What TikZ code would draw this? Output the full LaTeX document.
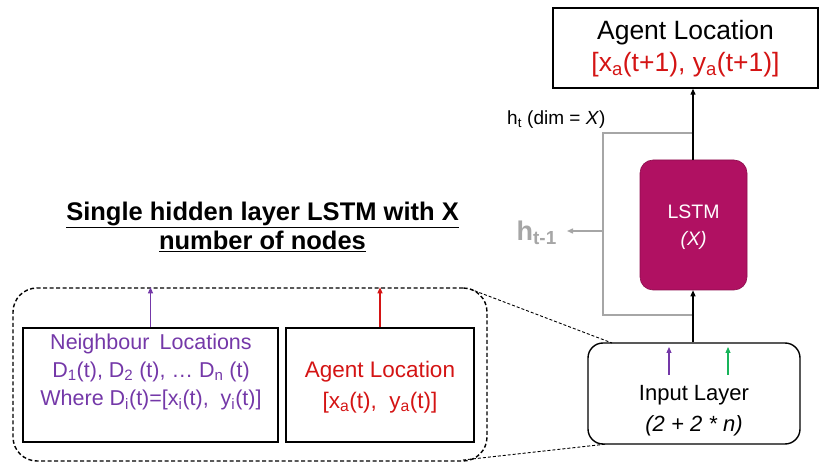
\documentclass[tikz,border=0pt]{standalone}
\usepackage{fontspec}
\setmainfont{Liberation Sans}
\usetikzlibrary{arrows.meta}
\definecolor{lstmcol}{HTML}{B01162}
\definecolor{nbcol}{HTML}{7438A8}
\definecolor{agcol}{HTML}{D41414}
\definecolor{grcol}{HTML}{18B45A}
\definecolor{loopcol}{HTML}{A6A6A6}
\newcommand{\lo}[1]{\textsubscript{#1}}
\newcommand{\fs}[1]{\fontsize{#1}{#1}\selectfont}
\tikzset{
  box/.style={draw=black, line width=1.4pt, inner sep=0pt},
  tip/.style={-{Triangle[length=6pt,width=5pt]}},
  link/.style={line width=1.2pt, tip},
  zoomline/.style={draw=black, line width=0.9pt, dash pattern=on 3pt off 2pt},
}
\begin{document}
\begin{tikzpicture}[x=1pt, y=-1pt]
\useasboundingbox (0,0) rectangle (823,462);

% output box
\node[box, minimum width=265pt, minimum height=80pt] (out) at (685.5,48) {};
\node (outa) at (685.5,33) {\fs{26.5}Agent Location};
\node[text=agcol] (outb) at (685.5,65) {\fs{26.5}[x\lo{a}(t+1), y\lo{a}(t+1)]};

% LSTM cell
\node[fill=lstmcol, draw=lstmcol!80!black, line width=0.6pt, rounded corners=13pt,
      minimum width=107pt, minimum height=130pt] (lstm) at (693.5,225) {};
\node[text=white] (lstmt) at (693.5,212) {\fs{19.5}LSTM};
\node[text=white] (lstmx) at (693.5,240) {\fs{19.5}\itshape(X)};

% input layer
\node[box, rounded corners=15pt, minimum width=212pt, minimum height=101pt] (inp) at (694,393.5) {};
\node (inpa) at (694,395) {\fs{22}Input Layer};
\node (inpb) at (694,426) {\fs{22}\itshape(2 + 2 * n)};

% recurrent loop
\coordinate (ltop) at (693,133);
\coordinate (lleft) at (603,133);
\coordinate (lbot) at (603,315);
\coordinate (lend) at (693,315);
\coordinate (lmid) at (603,231);
\coordinate (lout) at (567,231);
\draw[loopcol, line width=1.4pt] (ltop) -- (lleft) -- (lbot) -- (lend);
\draw[loopcol, line width=1.4pt, tip] (lmid) -- (lout);
\node[text=loopcol, anchor=east, inner sep=1pt] (hprev) at (558,233) {\fs{27}\bfseries h\lo{t-1}};
\node[anchor=south west, inner sep=0pt] (hcur) at (507,129) {\fs{19}h\lo{t} (dim = \textit{X})};

% main data path
\draw[link] (inp.north -| lend) -- (lstm.south -| lend);
\draw[line width=1.2pt] (lstm.north -| lend) -- (ltop);
\draw[link] (ltop) -- (out.south -| ltop);

% inputs entering the input layer
\coordinate (pin0) at (669,375);
\coordinate (pin1) at (669,347);
\coordinate (gin0) at (728,375);
\coordinate (gin1) at (728,347);
\draw[nbcol, link, line width=1.1pt] (pin0) -- (pin1);
\draw[grcol, link, line width=1.1pt] (gin0) -- (gin1);

% expanded view of the input layer
\node[draw=black, line width=1.4pt, dash pattern=on 4pt off 2.5pt, rounded corners=24pt,
      minimum width=474pt, minimum height=173pt, inner sep=0pt] (detail) at (250,374.5) {};
\node[box, minimum width=255pt, minimum height=114pt] (nb) at (150.5,385) {};
\node[box, minimum width=188pt, minimum height=114pt] (ag) at (380,385) {};

\node[text=nbcol] (nb1) at (151,344) {\fs{21.5}Neighbour\hspace{0.2em} Locations};
\node[text=nbcol] (nb2) at (151,372) {\fs{21.5}D\lo{1}(t), D\lo{2} (t), \ldots\ D\lo{n} (t)};
\node[text=nbcol] (nb3) at (151,400) {\fs{21.5}Where D\lo{i}(t)=[x\lo{i}(t),\ \ y\lo{i}(t)]};
\node[text=agcol] (ag1) at (380,372) {\fs{22.5}Agent Location};
\node[text=agcol] (ag2) at (380,403) {\fs{22.5}[x\lo{a}(t),\ \ y\lo{a}(t)]};

\draw[nbcol, link, line width=1.1pt] (nb.north) -- (nb.north |- detail.north);
\draw[agcol, link, line width=1.1pt] (ag.north) -- (ag.north |- detail.north);

% zoom lines
\coordinate (zt) at (470,289);
\coordinate (zb) at (463,460);
\draw[zoomline] (zt) -- (612,343);
\draw[zoomline] (zb) -- (607,444);

% title
\node[font=\fs{25.5}\bfseries, align=center] (title) at (262.5,227)
  {\underline{Single hidden layer LSTM with X}\\[2pt]\underline{number of nodes}};
\end{tikzpicture}
\end{document}
